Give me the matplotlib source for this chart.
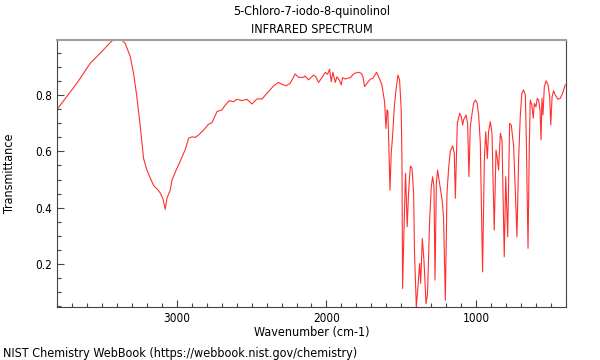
import matplotlib
matplotlib.use("Agg")
import matplotlib.pyplot as plt
from matplotlib.ticker import MultipleLocator, FixedLocator
from matplotlib import font_manager as fm

wavenumber = [3800, 3669, 3580, 3513, 3435, 3400, 3368, 3346, 3312, 3290, 3268, 3245, 3223, 3201, 3190,
              3157, 3116, 3094, 3078, 3067, 3045, 3033, 3005, 2978, 2956, 2945, 2922, 2900, 2878, 2856,
              2822, 2789, 2766, 2732, 2699, 2677, 2650, 2621, 2599, 2565, 2532, 2498, 2465, 2431, 2398,
              2354, 2320, 2302, 2269, 2242, 2209, 2187, 2153, 2142, 2120, 2086, 2071, 2053, 2030, 2008,
              1993, 1979, 1968, 1957, 1941, 1930, 1915, 1901, 1892, 1874, 1841, 1814, 1785, 1767, 1756,
              1745, 1729, 1707, 1689, 1665, 1651, 1629, 1611, 1602, 1595, 1589, 1585, 1575, 1567, 1558,
              1546, 1535, 1522, 1511, 1500, 1495, 1491, 1478, 1471, 1460, 1451, 1439, 1428, 1417, 1411,
              1399, 1388, 1377, 1370, 1359, 1348, 1334, 1324, 1310, 1299, 1290, 1281, 1274, 1265, 1257,
              1243, 1227, 1217, 1205, 1194, 1183, 1172, 1156, 1145, 1138, 1131, 1125, 1109, 1098, 1089,
              1083, 1067, 1056, 1047, 1038, 1026, 1016, 1004, 993, 982, 971, 956, 944, 935, 924,
              916, 904, 893, 878, 866, 856, 849, 837, 826, 811, 801, 788, 775, 764, 748,
              737, 726, 715, 704, 693, 682, 670, 663, 652, 643, 637, 626, 617, 610, 599,
              590, 581, 572, 565, 559, 552, 543, 531, 518, 507, 500, 491, 481, 470, 452,
              437, 421, 403]
transmittance = [0.751, 0.843, 0.914, 0.950, 0.994, 0.997, 0.997, 0.985, 0.938, 0.878, 0.795, 0.688, 0.575, 0.534, 0.520,
                 0.480, 0.456, 0.433, 0.394, 0.433, 0.462, 0.498, 0.534, 0.565, 0.593, 0.605, 0.647, 0.652, 0.650, 0.658,
                 0.676, 0.697, 0.702, 0.742, 0.748, 0.765, 0.781, 0.777, 0.786, 0.781, 0.786, 0.769, 0.787, 0.787, 0.807,
                 0.833, 0.846, 0.840, 0.834, 0.843, 0.876, 0.864, 0.864, 0.869, 0.855, 0.872, 0.866, 0.846, 0.863, 0.882,
                 0.875, 0.893, 0.848, 0.882, 0.846, 0.866, 0.855, 0.837, 0.863, 0.858, 0.863, 0.878, 0.882, 0.878, 0.866,
                 0.831, 0.843, 0.857, 0.861, 0.882, 0.866, 0.837, 0.775, 0.682, 0.748, 0.742, 0.665, 0.462, 0.593, 0.652,
                 0.759, 0.819, 0.872, 0.855, 0.748, 0.569, 0.112, 0.391, 0.522, 0.332, 0.451, 0.548, 0.540, 0.451, 0.237,
                 0.047, 0.118, 0.201, 0.130, 0.290, 0.213, 0.058, 0.094, 0.355, 0.474, 0.510, 0.474, 0.142, 0.486, 0.534,
                 0.486, 0.429, 0.367, 0.070, 0.451, 0.540, 0.600, 0.620, 0.593, 0.433, 0.569, 0.700, 0.736, 0.724, 0.694,
                 0.712, 0.730, 0.700, 0.510, 0.688, 0.736, 0.771, 0.783, 0.774, 0.730, 0.629, 0.171, 0.569, 0.670, 0.575,
                 0.670, 0.706, 0.665, 0.320, 0.605, 0.569, 0.534, 0.665, 0.641, 0.225, 0.510, 0.296, 0.700, 0.694, 0.617,
                 0.451, 0.296, 0.569, 0.724, 0.807, 0.819, 0.801, 0.629, 0.255, 0.629, 0.783, 0.765, 0.718, 0.771, 0.759,
                 0.789, 0.783, 0.748, 0.641, 0.789, 0.730, 0.831, 0.852, 0.837, 0.795, 0.694, 0.795, 0.816, 0.801, 0.786,
                 0.789, 0.807, 0.837]

title_lines = ["5-Chloro-7-iodo-8-quinolinol", "INFRARED SPECTRUM"]
x_label = "Wavenumber (cm-1)"
y_label = "Transmittance"
credit = "NIST Chemistry WebBook (https://webbook.nist.gov/chemistry)"
x_major = [1000, 2000, 3000]
y_major = [0.2, 0.4, 0.6, 0.8]

# font: prefer condensed DejaVu if present
cond_path = fm.findfont(fm.FontProperties(family="DejaVu Sans", stretch="condensed"))
if "ondensed" in cond_path:
    fp = lambda s: fm.FontProperties(fname=cond_path, size=s)
else:
    fp = lambda s: fm.FontProperties(family="DejaVu Sans", size=s * 0.85)

fig = plt.figure(figsize=(6, 3.6), dpi=100)
ax = fig.add_axes([57.3 / 600, 1 - 306.7 / 360, (565.7 - 57.3) / 600, (306.7 - 40) / 360])
ax.plot(wavenumber, transmittance, color="#ff3030", lw=0.8)
ax.set_xlim(3800, 400)
ax.set_ylim(0.047, 0.997)

ax.xaxis.set_major_locator(FixedLocator(x_major))
ax.xaxis.set_minor_locator(MultipleLocator(100))
ax.yaxis.set_major_locator(FixedLocator(y_major))
ax.yaxis.set_minor_locator(MultipleLocator(0.05))
ax.tick_params(which="both", direction="in", top=False, right=False, color="#444444", width=0.8)
ax.tick_params(which="major", length=5, pad=4)
ax.tick_params(which="minor", length=3)
ax.set_xticklabels([str(v) for v in x_major], fontproperties=fp(8.5))
ax.set_yticklabels([f"{v:.1f}" for v in y_major], fontproperties=fp(8.5))

for s in ["left", "bottom", "right"]:
    ax.spines[s].set_color("#444444")
    ax.spines[s].set_linewidth(0.8)
ax.spines["top"].set_color("#a0a0a0")
ax.spines["top"].set_linewidth(1.5)

fig.text(311.5 / 600, 1 - 12 / 360, title_lines[0], ha="center", va="center", fontproperties=fp(9))
fig.text(311.5 / 600, 1 - 29.5 / 360, title_lines[1], ha="center", va="center", fontproperties=fp(9))
fig.text(311.5 / 600, 1 - 332.5 / 360, x_label, ha="center", va="center", fontproperties=fp(9))
fig.text(10 / 600, 1 - 173.5 / 360, y_label, ha="center", va="center", rotation=90, fontproperties=fp(9))
fig.text(3 / 600, 1 - 353 / 360, credit, ha="left", va="center", fontproperties=fp(9))

fig.savefig("out.png", dpi=100)
